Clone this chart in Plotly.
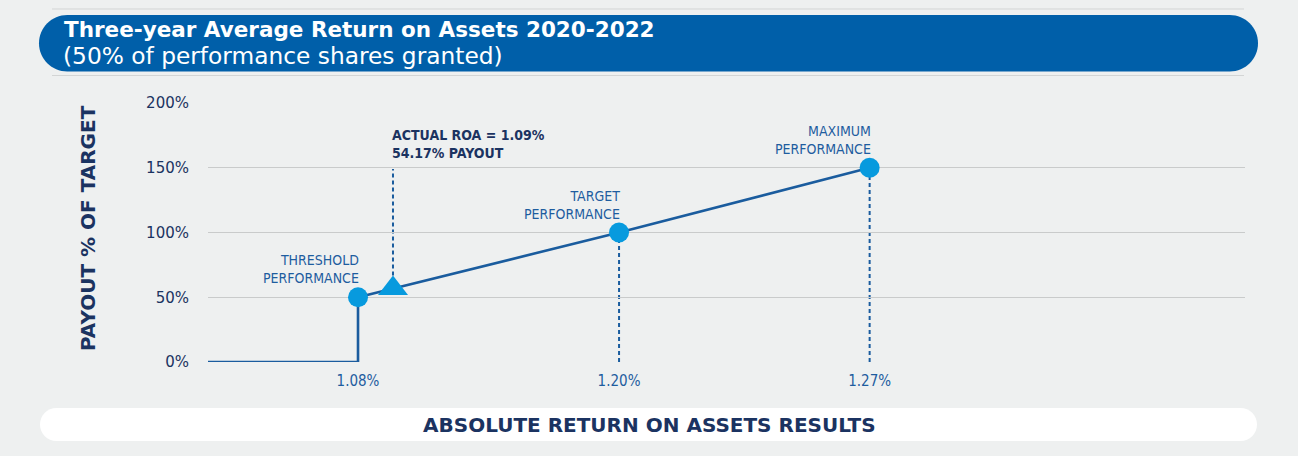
import plotly.graph_objects as go

# ---------------- data ----------------
tier_names = ["THRESHOLD<br>PERFORMANCE", "TARGET<br>PERFORMANCE", "MAXIMUM<br>PERFORMANCE"]
tier_roa_labels = ["1.08%", "1.20%", "1.27%"]
tier_positions = [1, 2, 2.96]       # schedule position of each tier on the x axis
tier_payouts = [50, 100, 150]       # payout % of target

actual_label = "ACTUAL ROA = 1.09%<br>54.17% PAYOUT"
actual_position = 1.134             # where the actual result sits on the schedule
actual_payout_marker = 56.7         # marker height on the line

y_tick_vals = [0, 50, 100, 150, 200]
y_tick_text = ["0%", "50%", "100%", "150%", "200%"]

# ---------------- layout constants ----------------
W, H = 1298, 456
ML, MR, MT, MB = 208, 53, 103, 94
PW, PH = W - ML - MR, H - MT - MB
X_RANGE = [0.4253, 4.398]
Y_RANGE = [0, 200]

BG = "#eef0f0"
BLUE_BANNER = "#005fa9"
LINE_BLUE = "#1a5c9e"
DOT_BLUE = "#079ade"
NAVY = "#1b3361"
LABEL_BLUE = "#1e5d9f"
GRID = "#c9cbcb"
NARROW = "DejaVu Sans Condensed, Liberation Sans Narrow, sans-serif"
WIDE = "DejaVu Sans, Verdana, sans-serif"


def px_x(p):
    return (p - ML) / PW


def px_y(p):
    return 1 - (p - MT) / PH


def rounded_rect_path(x0, y0, x1, y1):
    """Stadium shape (fully rounded ends) given pixel coords, returned in paper coords."""
    r = (y1 - y0) / 2
    k = 0.5523 * r
    d = f"M {px_x(x0 + r)},{px_y(y0)} L {px_x(x1 - r)},{px_y(y0)} "
    d += (f"C {px_x(x1 - r + k)},{px_y(y0)} {px_x(x1)},{px_y(y0 + r - k)} {px_x(x1)},{px_y(y0 + r)} ")
    d += (f"C {px_x(x1)},{px_y(y0 + r + k)} {px_x(x1 - r + k)},{px_y(y1)} {px_x(x1 - r)},{px_y(y1)} ")
    d += f"L {px_x(x0 + r)},{px_y(y1)} "
    d += (f"C {px_x(x0 + r - k)},{px_y(y1)} {px_x(x0)},{px_y(y1 - r + k)} {px_x(x0)},{px_y(y1 - r)} ")
    d += (f"C {px_x(x0)},{px_y(y0 + r - k)} {px_x(x0 + r - k)},{px_y(y0)} {px_x(x0 + r)},{px_y(y0)} Z")
    return d


fig = go.Figure()

# step segment below threshold (zero payout, then jump to threshold)
fig.add_trace(go.Scatter(
    x=[X_RANGE[0], tier_positions[0], tier_positions[0]],
    y=[0, 0, tier_payouts[0]],
    mode="lines", line=dict(color=LINE_BLUE, width=2.6),
    cliponaxis=False, hoverinfo="skip", showlegend=False,
))

# payout line between tiers
fig.add_trace(go.Scatter(
    x=tier_positions, y=tier_payouts, mode="lines",
    line=dict(color=LINE_BLUE, width=2.6),
    cliponaxis=False, hoverinfo="skip", showlegend=False,
))

# tier markers
fig.add_trace(go.Scatter(
    x=tier_positions, y=tier_payouts, mode="markers",
    marker=dict(size=20, color=DOT_BLUE, line=dict(width=0)),
    cliponaxis=False, showlegend=False,
))

# actual result marker
fig.add_trace(go.Scatter(
    x=[actual_position], y=[actual_payout_marker], mode="markers",
    marker=dict(size=26, symbol="triangle-up", color=DOT_BLUE, line=dict(width=0)),
    cliponaxis=False, showlegend=False,
))

shapes = []
# dashed drop lines from tiers to the axis
for xp, yp in zip(tier_positions, tier_payouts):
    shapes.append(dict(type="line", xref="x", yref="y", x0=xp, x1=xp, y0=0, y1=yp,
                       line=dict(color=LINE_BLUE, width=2, dash="4px,3px"), layer="below"))
# dashed line from actual marker up to its label
shapes.append(dict(type="line", xref="x", yref="y", x0=actual_position, x1=actual_position,
                   y0=actual_payout_marker + 10, y1=Y_RANGE[1] * 0.745,
                   line=dict(color=LINE_BLUE, width=2, dash="4px,3px"), layer="below"))

# header banner and its thin rules
shapes.append(dict(type="line", xref="paper", yref="paper", x0=px_x(52), x1=px_x(1244),
                   y0=px_y(9), y1=px_y(9), line=dict(color="#d3d5d5", width=1)))
shapes.append(dict(type="line", xref="paper", yref="paper", x0=px_x(52), x1=px_x(1244),
                   y0=px_y(75.5), y1=px_y(75.5), line=dict(color="#d3d5d5", width=1)))
shapes.append(dict(type="path", xref="paper", yref="paper", path=rounded_rect_path(39, 15, 1258, 71.5),
                   fillcolor=BLUE_BANNER, line=dict(width=0)))
# footer white bar
shapes.append(dict(type="path", xref="paper", yref="paper", path=rounded_rect_path(40, 408, 1257, 441),
                   fillcolor="#ffffff", line=dict(width=0)))

annotations = []
for xp, yp, name in zip(tier_positions, tier_payouts, tier_names):
    annotations.append(dict(x=xp, y=yp, xref="x", yref="y", text=name, showarrow=False,
                            xanchor="right", yanchor="bottom", align="right", yshift=9,
                            xshift=3,
                            font=dict(family=NARROW, size=14, color=LABEL_BLUE)))
annotations.append(dict(x=actual_position, y=Y_RANGE[1] * 0.745, xref="x", yref="y", text="<b>" + actual_label + "</b>",
                        showarrow=False, xanchor="left", yanchor="bottom", align="left",
                        xshift=-3, yshift=6,
                        font=dict(family=NARROW, size=14, color=NAVY)))
# y axis title
annotations.append(dict(x=px_x(88), y=px_y(228), xref="paper", yref="paper",
                        text="<b>PAYOUT % OF TARGET</b>", textangle=-90, showarrow=False,
                        xanchor="center", yanchor="middle",
                        font=dict(family=WIDE, size=20, color=NAVY)))
# banner title
annotations.append(dict(x=px_x(62), y=px_y(30), xref="paper", yref="paper",
                        text="<b>Three-year Average Return on Assets 2020-2022</b>", showarrow=False,
                        xanchor="left", yanchor="middle",
                        font=dict(family=WIDE, size=21.5, color="#ffffff")))
annotations.append(dict(x=px_x(61), y=px_y(56), xref="paper", yref="paper",
                        text="(50% of performance shares granted)", showarrow=False,
                        xanchor="left", yanchor="middle",
                        font=dict(family=WIDE, size=23.3, color="#ffffff")))
# footer text
annotations.append(dict(x=px_x(649), y=px_y(425), xref="paper", yref="paper",
                        text="<b>ABSOLUTE RETURN ON ASSETS RESULTS</b>", showarrow=False,
                        xanchor="center", yanchor="middle",
                        font=dict(family=WIDE, size=20, color=NAVY)))

fig.update_layout(
    width=W, height=H,
    margin=dict(l=ML, r=MR, t=MT, b=MB, pad=0),
    paper_bgcolor=BG, plot_bgcolor=BG,
    showlegend=False,
    shapes=shapes,
    annotations=annotations,
    xaxis=dict(range=X_RANGE, tickvals=tier_positions, ticktext=tier_roa_labels,
               showgrid=False, zeroline=False, showline=False, ticks="",
               ticklabelstandoff=8,
               tickfont=dict(family=NARROW, size=15, color=LABEL_BLUE), fixedrange=True),
    yaxis=dict(range=Y_RANGE, tickvals=y_tick_vals, ticktext=y_tick_text,
               showgrid=True, gridcolor=GRID, gridwidth=1, zeroline=False, showline=False,
               ticks="", ticklabelstandoff=18,
               tickfont=dict(family=WIDE, size=15, color=NAVY), fixedrange=True),
)

post = ("document.body.style.margin='0';document.body.style.background='%s';"
        "document.documentElement.style.overflow='hidden';" % BG)
fig.write_html("out.html", post_script=post, config={"displayModeBar": False})
